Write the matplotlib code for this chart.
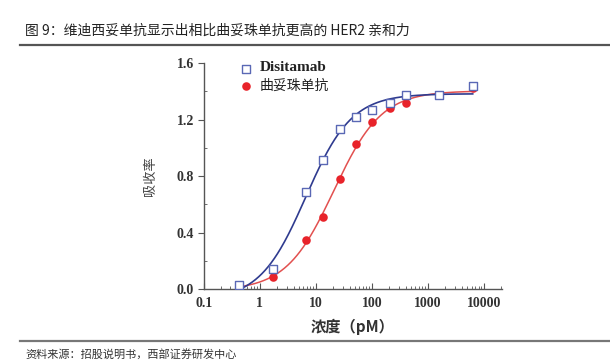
import numpy as np
import matplotlib
matplotlib.use("Agg")
import matplotlib.pyplot as plt
from matplotlib.ticker import FixedLocator, LogLocator, NullFormatter, FixedFormatter, MultipleLocator

plt.rcParams['font.family'] = ['Liberation Serif', 'Noto Sans CJK SC', 'DejaVu Sans']

# ---- data ----
conc_disi = [0.43, 1.7, 6.6, 13.3, 27.5, 53, 102, 214, 408, 1550, 6300]
abs_disi = [0.03, 0.14, 0.69, 0.91, 1.13, 1.22, 1.27, 1.32, 1.37, 1.37, 1.44]
conc_tras = [1.7, 6.6, 13.3, 27.5, 53, 102, 214, 408, 1550, 6300]
abs_tras = [0.085, 0.35, 0.51, 0.78, 1.03, 1.18, 1.28, 1.32, 1.37, 1.42]
curve_start = 0.43  # fitted curves start at the lowest concentration
xticks = [0.1, 1, 10, 100, 1000, 10000]
xtick_labels = ["0.1", "1", "10", "100", "1000", "10000"]
yticks = [0.0, 0.4, 0.8, 1.2, 1.6]

title = "图 9：维迪西妥单抗显示出相比曲妥珠单抗更高的 HER2 亲和力"
source = "资料来源：招股说明书，西部证券研发中心"


def fit_4pl(x, y):
    """Least-squares four-parameter logistic fit (grid over EC50/slope, linear in bottom/top)."""
    x = np.asarray(x, float); y = np.asarray(y, float)
    best = None
    for lc in np.linspace(-0.5, 3.0, 351):
        c = 10 ** lc
        for h in np.linspace(0.5, 3.0, 126):
            f = 1.0 / (1.0 + (c / x) ** h)
            A = np.column_stack([np.ones_like(f), f])
            coef, *_ = np.linalg.lstsq(A, y, rcond=None)
            sse = np.sum((A @ coef - y) ** 2)
            if best is None or sse < best[0]:
                best = (sse, c, h, coef)
    _, c, h, coef = best
    return lambda xx: coef[0] + coef[1] / (1.0 + (c / xx) ** h)


fig = plt.figure(figsize=(6.1, 3.6), dpi=100)
ax = fig.add_axes([0.334, 0.197, 0.489, 0.628])

blue_line = '#2f3b8f'
blue_mk = '#5a68b5'
red_line = '#e2504f'
red_mk = '#e8232a'

xs_b = np.logspace(np.log10(curve_start), np.log10(max(conc_disi)), 300)
xs_r = np.logspace(np.log10(curve_start), np.log10(max(conc_tras)), 300)
fb = fit_4pl(conc_disi, abs_disi)
fr = fit_4pl(conc_tras, abs_tras)

ax.plot(xs_r, fr(xs_r), color=red_line, lw=1.1, zorder=2)
ax.plot(xs_b, fb(xs_b), color=blue_line, lw=1.2, zorder=2)
ax.scatter(conc_tras, abs_tras, s=38, color=red_mk, zorder=3, linewidths=0)
ax.scatter(conc_disi, abs_disi, s=30, marker='s', facecolor='white',
           edgecolor=blue_mk, linewidths=1.0, zorder=4)

ax.set_xscale('log')
ax.set_xlim(0.1, 21000)
ax.set_ylim(0, 1.6)
ax.xaxis.set_major_locator(FixedLocator(xticks))
ax.xaxis.set_major_formatter(FixedFormatter(xtick_labels))
ax.xaxis.set_minor_locator(LogLocator(base=10, subs=np.arange(2, 10)))
ax.xaxis.set_minor_formatter(NullFormatter())
ax.yaxis.set_major_locator(FixedLocator(yticks))
ax.yaxis.set_minor_locator(MultipleLocator(0.2))
ax.set_yticklabels([f"{v:.1f}" for v in yticks])

for s in ['top', 'right']:
    ax.spines[s].set_visible(False)
for s in ['left', 'bottom']:
    ax.spines[s].set_color('#555555')
    ax.spines[s].set_linewidth(1.0)

ax.tick_params(axis='x', which='major', direction='in', length=4, color='#555555',
               labelsize=10, pad=6)
ax.tick_params(axis='x', which='minor', direction='in', length=2, color='#555555')
ax.tick_params(axis='y', which='major', direction='out', length=4, color='#555555',
               labelsize=10, pad=3)
ax.tick_params(axis='y', which='minor', direction='in', length=2, color='#555555')
for lab in ax.get_xticklabels() + ax.get_yticklabels():
    lab.set_fontweight('bold')
    lab.set_color('#333333')

ax.set_xlabel("浓度（pM）", fontsize=11, fontweight='bold', color='#333333', labelpad=6,
              family=['Noto Sans CJK SC', 'DejaVu Sans'])
ax.text(-0.18, 0.5, "吸收率", rotation=90, transform=ax.transAxes, ha='center', va='center',
        fontsize=9.5, color='#444444', family=['Noto Sans CJK SC', 'DejaVu Sans'])

# legend
ax.scatter([0.57], [1.555], s=30, marker='s', facecolor='white', edgecolor=blue_mk,
           linewidths=1.0, zorder=5, clip_on=False)
ax.scatter([0.57], [1.435], s=38, color=red_mk, linewidths=0, zorder=5, clip_on=False)
ax.text(1.0, 1.565, "Disitamab", fontsize=11, fontweight='bold', va='center', color='#222222')
ax.text(1.0, 1.435, "曲妥珠单抗", fontsize=10, va='center', color='#222222',
        family=['Noto Sans CJK SC', 'DejaVu Sans'])

# title, rules, source
fig.text(25 / 610, 1 - 31 / 360, title, fontsize=10, va='center', ha='left', color='#222222',
         family=['Noto Sans CJK SC', 'DejaVu Sans'])
fig.add_artist(plt.Line2D([20 / 610, 1.0], [1 - 45 / 360] * 2, color='#555555', lw=1.6))
fig.add_artist(plt.Line2D([20 / 610, 1.0], [1 - 341 / 360] * 2, color='#777777', lw=1.6))
fig.text(25 / 610, 1 - 354 / 360, source, fontsize=8, va='center', ha='left', color='#333333',
         family=['Noto Sans CJK SC', 'DejaVu Sans'])

fig.savefig("out.png", dpi=100)
